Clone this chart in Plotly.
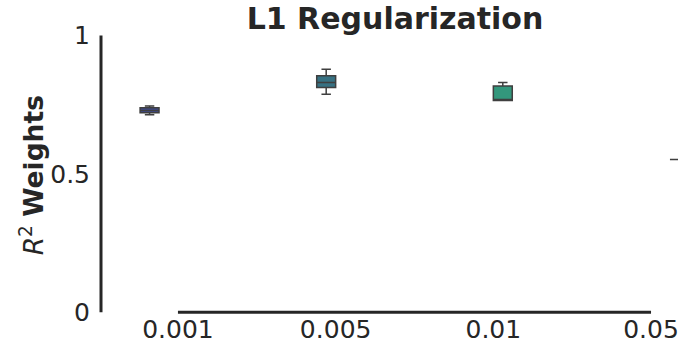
import plotly.graph_objects as go

categories = ["0.001", "0.005", "0.01", "0.05"]
upper = [0.745, 0.878, 0.830, 0.552]
q3 = [0.739, 0.855, 0.818, 0.552]
median = [0.729, 0.830, 0.765, 0.552]
q1 = [0.721, 0.812, 0.765, 0.552]
lower = [0.714, 0.788, 0.765, 0.552]
colors = ["#3f4a8c", "#377182", "#33977c", "#7bb85a"]
ytick_vals = [0, 0.5, 1]
ytick_text = ["0", "0.5", "1"]

TXT = "#262626"
fig = go.Figure()
for i, c in enumerate(categories):
    fig.add_trace(go.Box(
        x=[c], q1=[q1[i]], median=[median[i]], q3=[q3[i]],
        lowerfence=[lower[i]], upperfence=[upper[i]],
        name=c, fillcolor=colors[i],
        line=dict(color="#3f3f3f", width=1.5),
        whiskerwidth=0.5, boxpoints=False, showlegend=False,
        hoverinfo="skip",
    ))

fig.update_layout(
    width=678, height=349,
    margin=dict(l=101, r=0, t=29.5, b=34.2),
    boxmode="group", boxgap=0.52, boxgroupgap=0,
    plot_bgcolor="white", paper_bgcolor="white",
    font=dict(family="DejaVu Sans", color=TXT, size=25),
    title=dict(text="<b>L1 Regularization</b>", x=395/678, xanchor="center",
               y=1 - 18/349, yanchor="middle", xref="container", yref="container",
               font=dict(size=30, color=TXT)),
    xaxis=dict(type="category", range=[-0.488, 3.171], showgrid=False, zeroline=False,
               showline=False, ticks="", tickvals=categories, ticktext=categories,
               ticklabelstandoff=-3, tickfont=dict(size=25, color=TXT)),
    yaxis=dict(range=[-0.01, 1.02], showgrid=False, zeroline=False, showline=False,
               tickvals=ytick_vals, ticktext=ytick_text, ticks="",
               ticklabelstandoff=10, tickfont=dict(size=25, color=TXT)),
    shapes=[
        dict(type="line", xref="paper", yref="y", x0=0, x1=0, y0=0, y1=1,
             line=dict(color=TXT, width=3)),
        dict(type="line", xref="x", yref="y", x0=0, x1=len(categories) - 1,
             y0=0, y1=0, line=dict(color=TXT, width=3)),
    ],
    annotations=[
        dict(text="<i>R</i><sup>2</sup> <b>Weights</b>", textangle=-90,
             xref="paper", yref="paper", x=0, y=0.49, xanchor="center", yanchor="middle",
             xshift=-69, showarrow=False, font=dict(size=26.5, color=TXT)),
    ],
)
fig.write_html("out.html")
